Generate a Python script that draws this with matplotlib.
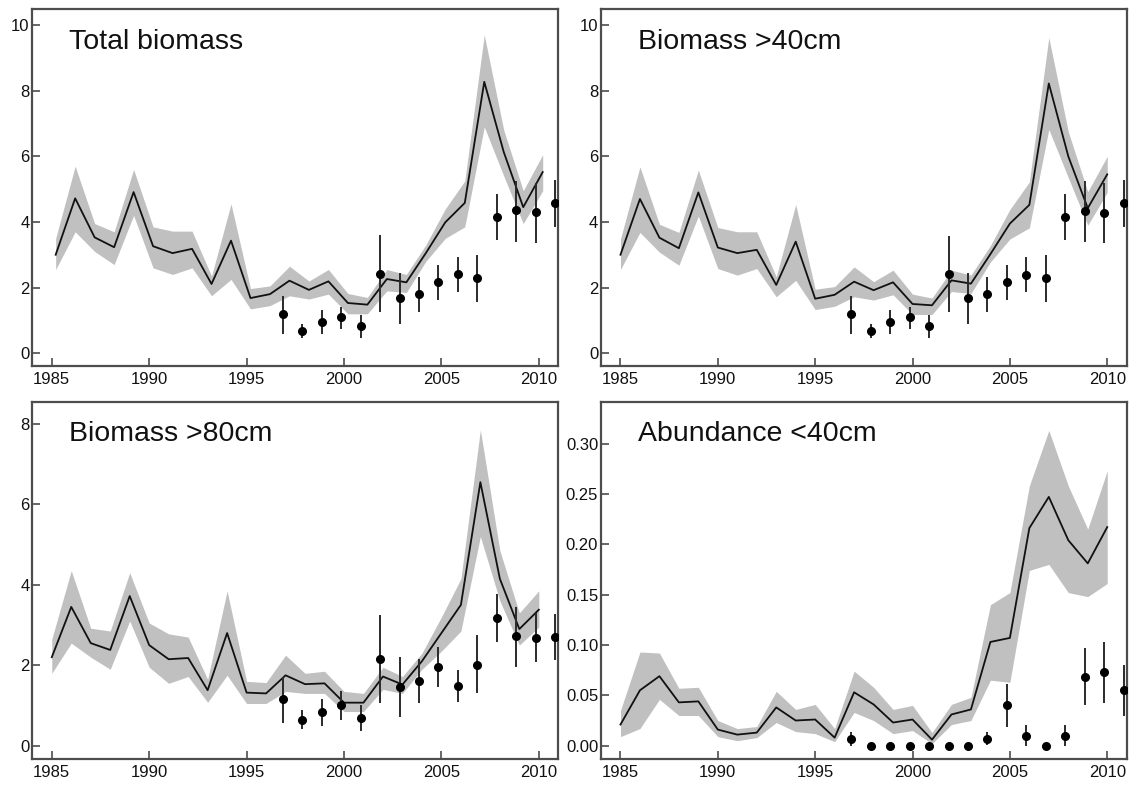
import matplotlib
matplotlib.use("Agg")
import matplotlib.pyplot as plt
import numpy as np

plt.rcParams['font.family'] = ['Liberation Sans', 'DejaVu Sans']

# model years and survey years
years = np.arange(1985, 2011)
survey_years = np.arange(1997, 2012)

# Total biomass
tot_fit = [3.00, 4.72, 3.53, 3.23, 4.91, 3.26, 3.05, 3.18, 2.11, 3.43,
           1.68, 1.80, 2.21, 1.93, 2.19, 1.53, 1.48, 2.26, 2.16, 3.05,
           3.99, 4.58, 8.27, 6.13, 4.45, 5.52]
tot_lo = [2.55, 3.70, 3.10, 2.70, 4.20, 2.60, 2.40, 2.60, 1.75, 2.25,
          1.35, 1.45, 1.75, 1.65, 1.80, 1.20, 1.20, 1.90, 1.85, 2.80,
          3.50, 3.85, 6.90, 5.40, 3.95, 4.95]
tot_hi = [3.50, 5.70, 3.95, 3.70, 5.60, 3.85, 3.72, 3.72, 2.35, 4.55,
          1.97, 2.05, 2.65, 2.20, 2.55, 1.82, 1.70, 2.55, 2.40, 3.30,
          4.40, 5.25, 9.70, 6.80, 4.95, 6.05]
tot_obs = [1.20, 0.67, 0.95, 1.10, 0.82, 2.42, 1.68, 1.80, 2.18, 2.40,
           2.28, 4.15, 4.35, 4.30, 4.57]
tot_obs_lo = [0.60, 0.45, 0.57, 0.75, 0.45, 1.27, 0.90, 1.25, 1.63, 1.87,
              1.55, 3.45, 3.40, 3.35, 3.85]
tot_obs_hi = [1.75, 0.90, 1.32, 1.42, 1.17, 3.60, 2.44, 2.33, 2.70, 2.93,
              3.00, 4.85, 5.25, 5.20, 5.27]

# Biomass > 40 cm
b40_fit = [3.00, 4.70, 3.52, 3.20, 4.90, 3.22, 3.05, 3.15, 2.08, 3.40,
           1.66, 1.78, 2.18, 1.92, 2.16, 1.50, 1.46, 2.22, 2.12, 3.02,
           3.95, 4.52, 8.22, 6.00, 4.42, 5.45]
b40_lo = [2.55, 3.68, 3.08, 2.68, 4.18, 2.58, 2.38, 2.58, 1.72, 2.22,
          1.33, 1.43, 1.72, 1.62, 1.78, 1.18, 1.18, 1.88, 1.82, 2.78,
          3.48, 3.82, 6.82, 5.35, 3.90, 4.90]
b40_hi = [3.48, 5.68, 3.93, 3.68, 5.58, 3.83, 3.70, 3.70, 2.33, 4.53,
          1.95, 2.03, 2.63, 2.18, 2.53, 1.80, 1.68, 2.53, 2.38, 3.28,
          4.38, 5.22, 9.62, 6.75, 4.92, 6.00]
b40_obs = [1.20, 0.67, 0.95, 1.10, 0.82, 2.42, 1.68, 1.80, 2.18, 2.38,
           2.28, 4.15, 4.33, 4.28, 4.57]
b40_obs_lo = [0.60, 0.45, 0.57, 0.75, 0.45, 1.27, 0.90, 1.25, 1.63, 1.85,
              1.55, 3.45, 3.38, 3.35, 3.85]
b40_obs_hi = [1.75, 0.90, 1.32, 1.42, 1.17, 3.58, 2.44, 2.33, 2.70, 2.93,
              3.00, 4.85, 5.25, 5.20, 5.27]

# Biomass > 80 cm
b80_fit = [2.20, 3.45, 2.55, 2.38, 3.72, 2.50, 2.15, 2.18, 1.38, 2.80,
           1.32, 1.30, 1.75, 1.53, 1.55, 1.07, 1.07, 1.72, 1.52, 2.10,
           2.80, 3.50, 6.55, 4.15, 2.90, 3.38]
b80_lo = [1.80, 2.55, 2.20, 1.90, 3.10, 1.95, 1.55, 1.72, 1.08, 1.75,
          1.05, 1.05, 1.35, 1.30, 1.30, 0.85, 0.85, 1.40, 1.30, 1.90,
          2.35, 2.85, 5.20, 3.60, 2.50, 2.95]
b80_hi = [2.65, 4.35, 2.92, 2.85, 4.30, 3.05, 2.78, 2.70, 1.65, 3.85,
          1.60, 1.57, 2.25, 1.80, 1.85, 1.35, 1.30, 1.95, 1.72, 2.30,
          3.20, 4.15, 7.85, 4.85, 3.30, 3.85]
b80_obs = [1.15, 0.65, 0.83, 1.00, 0.70, 2.15, 1.45, 1.60, 1.95, 1.48,
           2.00, 3.17, 2.72, 2.68, 2.70]
b80_obs_lo = [0.57, 0.42, 0.50, 0.65, 0.37, 1.05, 0.72, 1.05, 1.45, 1.08,
              1.30, 2.57, 1.95, 2.08, 2.12]
b80_obs_hi = [1.72, 0.88, 1.17, 1.37, 1.02, 3.25, 2.20, 2.15, 2.45, 1.87,
              2.75, 3.77, 3.45, 3.30, 3.28]

# Abundance < 40 cm
a40_fit = [0.021, 0.055, 0.069, 0.043, 0.044, 0.016, 0.011, 0.013, 0.038, 0.025,
           0.026, 0.008, 0.053, 0.041, 0.023, 0.026, 0.006, 0.031, 0.036, 0.103,
           0.107, 0.216, 0.247, 0.204, 0.181, 0.217]
a40_lo = [0.009, 0.017, 0.046, 0.030, 0.030, 0.009, 0.005, 0.008, 0.023, 0.014,
          0.012, 0.004, 0.033, 0.025, 0.012, 0.015, 0.002, 0.021, 0.025, 0.065,
          0.063, 0.174, 0.180, 0.152, 0.148, 0.161]
a40_hi = [0.035, 0.093, 0.092, 0.057, 0.058, 0.025, 0.017, 0.019, 0.054, 0.036,
          0.041, 0.017, 0.074, 0.058, 0.036, 0.040, 0.013, 0.041, 0.048, 0.140,
          0.152, 0.258, 0.313, 0.258, 0.215, 0.273]
a40_obs = [0.007, 0.0, 0.0, 0.0, 0.0, 0.0, 0.0, 0.007, 0.040, 0.010,
           0.0, 0.010, 0.068, 0.073, 0.055]
a40_obs_lo = [0.000, 0.0, 0.0, 0.0, 0.0, 0.0, 0.0, 0.001, 0.019, 0.000,
              0.0, 0.000, 0.040, 0.042, 0.029]
a40_obs_hi = [0.014, 0.0, 0.0, 0.0, 0.0, 0.0, 0.0, 0.014, 0.061, 0.021,
              0.0, 0.021, 0.097, 0.103, 0.080]

titles = ["Total biomass", "Biomass >40cm", "Biomass >80cm", "Abundance <40cm"]

BAND = "#c0c0c0"
EDGE = "#4d4d4d"


def draw_panel(ax, title, fit, lo, hi, obs, obs_lo, obs_hi, ylim, yticks, fmt,
               shift=0.0):
    # model estimate with its interval, survey index with error bars
    xm = years + shift
    ax.fill_between(xm, lo, hi, color=BAND, lw=0, zorder=1)
    ax.plot(xm, fit, color="#111111", lw=1.3, zorder=2)
    xs = survey_years - 0.15
    ax.vlines(xs, obs_lo, obs_hi, color="#2a2a2a", lw=1.4, zorder=3)
    ax.plot(xs, obs, "o", color="black", ms=5.5, zorder=4)

    ax.set_xlim(1984.0, 2011.0)
    ax.set_ylim(*ylim)
    ax.set_xticks(np.arange(1985, 2011, 5))
    ax.set_yticks(yticks)
    ax.set_yticklabels([fmt % v for v in yticks])
    ax.tick_params(direction="in", length=6, width=1.2, color=EDGE,
                   labelsize=12, labelcolor="#111111")
    ax.tick_params(axis="x", pad=4)
    ax.tick_params(axis="y", pad=2)
    for sp in ax.spines.values():
        sp.set_color(EDGE)
        sp.set_linewidth(1.6)
    ax.text(0.07, 0.89, title, transform=ax.transAxes, fontsize=20.5,
            va="baseline", ha="left", color="#111111")


fig = plt.figure(figsize=(11.44, 7.85), dpi=100)
W, H = 1144.0, 785.0


def px_axes(x0, y0, x1, y1):
    return fig.add_axes([x0 / W, 1 - y1 / H, (x1 - x0) / W, (y1 - y0) / H])


ax1 = px_axes(32.3, 9.3, 558.3, 366)
ax2 = px_axes(601, 9.3, 1126.7, 366)
ax3 = px_axes(32.3, 401.7, 558.3, 759)
ax4 = px_axes(601, 401.7, 1126.7, 759)

draw_panel(ax1, titles[0], tot_fit, tot_lo, tot_hi, tot_obs, tot_obs_lo,
           tot_obs_hi, (-0.39, 10.48), [0, 2, 4, 6, 8, 10], "%d", shift=0.2)
draw_panel(ax2, titles[1], b40_fit, b40_lo, b40_hi, b40_obs, b40_obs_lo,
           b40_obs_hi, (-0.39, 10.48), [0, 2, 4, 6, 8, 10], "%d")
draw_panel(ax3, titles[2], b80_fit, b80_lo, b80_hi, b80_obs, b80_obs_lo,
           b80_obs_hi, (-0.33, 8.55), [0, 2, 4, 6, 8], "%d")
draw_panel(ax4, titles[3], a40_fit, a40_lo, a40_hi, a40_obs, a40_obs_lo,
           a40_obs_hi, (-0.0132, 0.3415), [0, 0.05, 0.10, 0.15, 0.20, 0.25, 0.30],
           "%.2f")

fig.savefig("out.png", dpi=100)
